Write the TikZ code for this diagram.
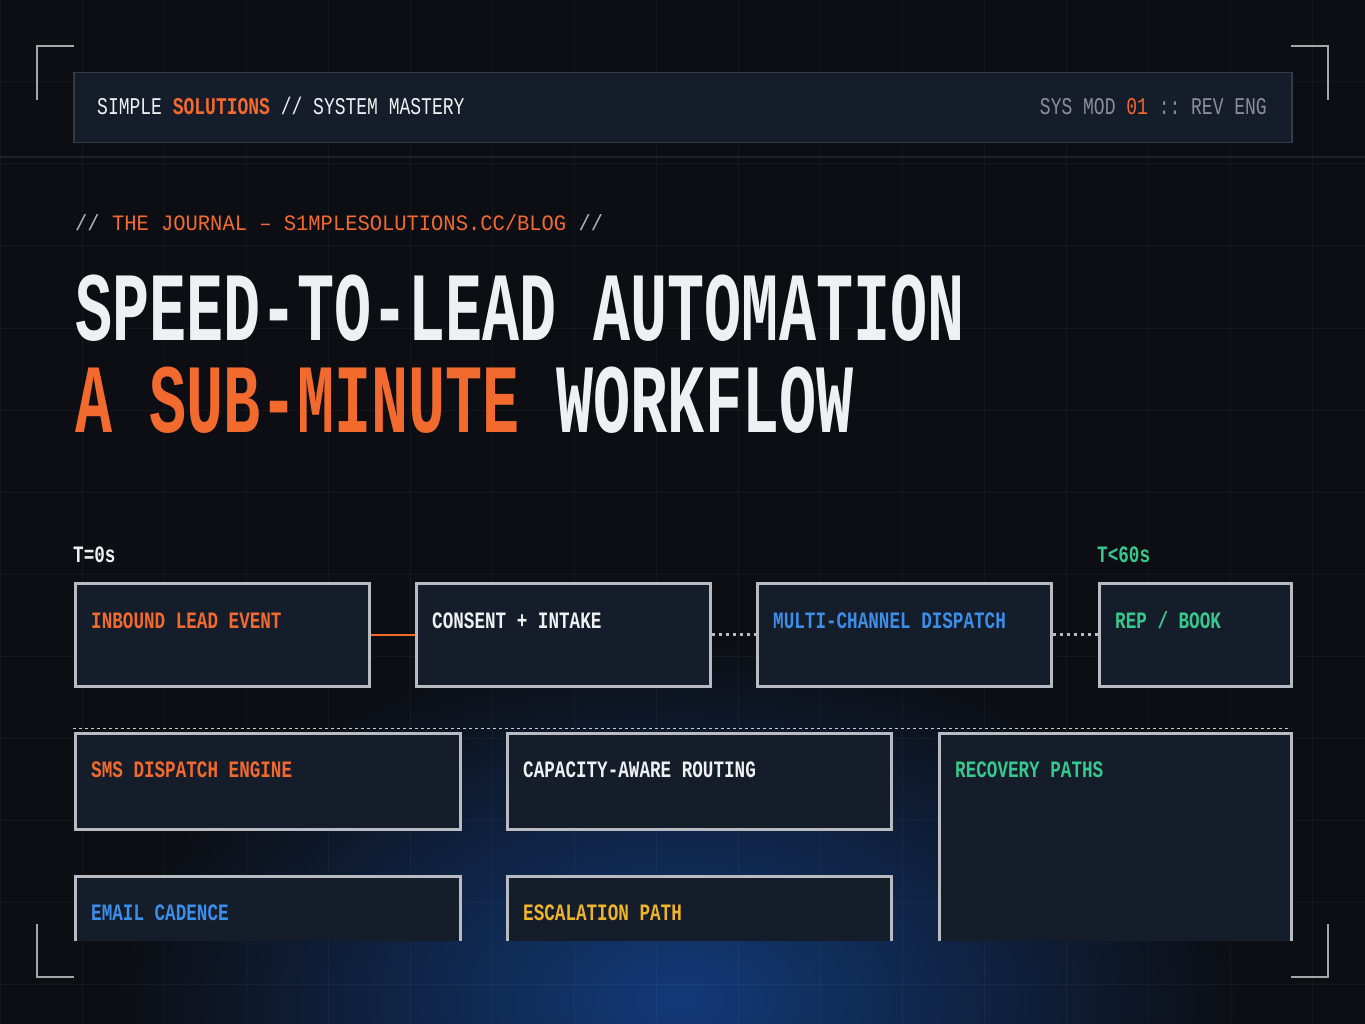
\documentclass[tikz,border=0pt]{standalone}
\usepackage{fontspec}
\setmonofont{Liberation Mono}[FakeStretch=0.75]
\newfontfamily\titlefont{Liberation Mono}[FakeStretch=0.63]
\newfontfamily\journalfont{Liberation Mono}[FakeStretch=0.93]
\usetikzlibrary{positioning}
\definecolor{bgDark}{HTML}{0C0E13}
\definecolor{glowBlue}{HTML}{123A78}
\definecolor{boxFill}{HTML}{151C2A}
\definecolor{boxLine}{HTML}{B8BCC2}
\definecolor{barLine}{HTML}{353A44}
\definecolor{hiOrange}{HTML}{F26A2E}
\definecolor{hiBlue}{HTML}{3B8FE8}
\definecolor{hiGreen}{HTML}{35C98E}
\definecolor{hiYellow}{HTML}{F0B429}
\definecolor{dimGray}{HTML}{8A8F98}
\definecolor{txtWhite}{HTML}{EEF0F2}

\tikzset{
	stage/.style={rectangle, draw=boxLine, line width=2.5pt, fill=boxFill, anchor=north west, inner sep=0pt},
	stageLabel/.style={anchor=base west, font=\ttfamily\bfseries\fontsize{23.5}{23.5}\selectfont, inner sep=0pt},
	corner/.style={draw=gray!70, line width=2.5pt}
}

\begin{document}
\begin{tikzpicture}[x=1pt, y=-1pt]
	\useasboundingbox (0,0) rectangle (1365,1024);
	\fill[bgDark] (0,0) rectangle (1365,1024);
	\begin{scope}
		\clip (0,0) rectangle (1365,1024);
		\shade[inner color=glowBlue, outer color=bgDark] (680,1000) ellipse (560 and 360);
	\end{scope}
	% faint grid
	\foreach \gx in {0,82,...,1365}
		\draw[white, opacity=0.04, line width=1pt] (\gx,0) -- (\gx,1024);
	\foreach \gy in {0,82,...,1024}
		\draw[white, opacity=0.04, line width=1pt] (0,\gy) -- (1365,\gy);
	\draw[white, opacity=0.08, line width=1.5pt] (0,157) -- (1365,157);

	% corner marks
	\draw[corner] (37,100) -- (37,46) -- (74,46);
	\draw[corner] (1328,100) -- (1328,46) -- (1291,46);
	\draw[corner] (37,924) -- (37,977) -- (74,977);
	\draw[corner] (1328,924) -- (1328,977) -- (1291,977);

	% header bar
	\node[rectangle, draw=barLine, line width=1.5pt, fill=boxFill, minimum width=1218pt, minimum height=70pt, anchor=north west](headBar) at (73,72){};
	\node[anchor=base west, inner sep=0pt, font=\ttfamily\fontsize{24}{24}\selectfont, text=txtWhite](headLeft) at (97,115){SIMPLE \textcolor{hiOrange}{\bfseries SOLUTIONS} // SYSTEM MASTERY};
	\node[anchor=base east, inner sep=0pt, font=\ttfamily\fontsize{24}{24}\selectfont, text=dimGray](headRight) at (1267,115){SYS MOD \textcolor{hiOrange}{01} :: REV ENG};

	% titles
	\node[anchor=base west, inner sep=0pt, font=\journalfont\fontsize{22}{22}\selectfont, text=hiOrange](journal) at (75,231){\textcolor{dimGray!70}{//} THE JOURNAL – S1MPLESOLUTIONS.CC/BLOG \textcolor{dimGray!70}{//}};
	\node[anchor=base west, inner sep=0pt, font=\titlefont\bfseries\fontsize{98}{98}\selectfont, text=txtWhite](titleOne) at (75,340){SPEED-TO-LEAD AUTOMATION};
	\node[anchor=base west, inner sep=0pt, font=\titlefont\bfseries\fontsize{98}{98}\selectfont, text=txtWhite](titleTwo) at (75,432){\textcolor{hiOrange}{A SUB-MINUTE} WORKFLOW};

	\node[stageLabel, text=txtWhite](tStart) at (73,562){T=0s};
	\node[stageLabel, text=hiGreen](tEnd) at (1097,562){T<60s};

	% pipeline row
	\node[stage, minimum width=294pt, minimum height=103pt](inbound) at (74,582){};
	\node[stage, minimum width=294pt, minimum height=103pt](consent) at (415,582){};
	\node[stage, minimum width=294pt, minimum height=103pt](dispatch) at (756,582){};
	\node[stage, minimum width=192pt, minimum height=103pt](repBook) at (1098,582){};
	\draw[hiOrange, line width=2.5pt] (inbound.east) -- (consent.west);
	\draw[boxLine, line width=3pt, dash pattern=on 3pt off 4pt] (consent.east) -- (dispatch.west);
	\draw[boxLine, line width=3pt, dash pattern=on 3pt off 4pt] (dispatch.east) -- (repBook.west);
	\node[stageLabel, text=hiOrange] at ([shift={(17,46)}]inbound.north west){INBOUND LEAD EVENT};
	\node[stageLabel, text=txtWhite] at ([shift={(17,46)}]consent.north west){CONSENT + INTAKE};
	\node[stageLabel, text=hiBlue] at ([shift={(17,46)}]dispatch.north west){MULTI-CHANNEL DISPATCH};
	\node[stageLabel, text=hiGreen] at ([shift={(17,46)}]repBook.north west){REP / BOOK};

	\coordinate(sepLeft) at (73,728);
	\coordinate(sepRight) at (1291,728);
	\draw[gray!40, line width=1pt, dash pattern=on 3pt off 3pt] (sepLeft) -- (sepRight);

	% detail blocks, cut off at the bottom
	\begin{scope}
		\clip (0,0) rectangle (1365,940);
		\node[stage, minimum width=385pt, minimum height=96pt](smsEngine) at (74,732){};
		\node[stage, minimum width=384pt, minimum height=96pt](routing) at (506,732){};
		\node[stage, minimum width=352pt, minimum height=260pt](recovery) at (938,732){};
		\node[stage, minimum width=385pt, minimum height=120pt](emailCad) at (74,875){};
		\node[stage, minimum width=384pt, minimum height=120pt](escalation) at (506,875){};
	\end{scope}
	\node[stageLabel, text=hiOrange] at ([shift={(17,45)}]smsEngine.north west){SMS DISPATCH ENGINE};
	\node[stageLabel, text=txtWhite] at ([shift={(17,45)}]routing.north west){CAPACITY-AWARE ROUTING};
	\node[stageLabel, text=hiGreen] at ([shift={(17,45)}]recovery.north west){RECOVERY PATHS};
	\node[stageLabel, text=hiBlue] at ([shift={(17,45)}]emailCad.north west){EMAIL CADENCE};
	\node[stageLabel, text=hiYellow] at ([shift={(17,45)}]escalation.north west){ESCALATION PATH};
\end{tikzpicture}
\end{document}
